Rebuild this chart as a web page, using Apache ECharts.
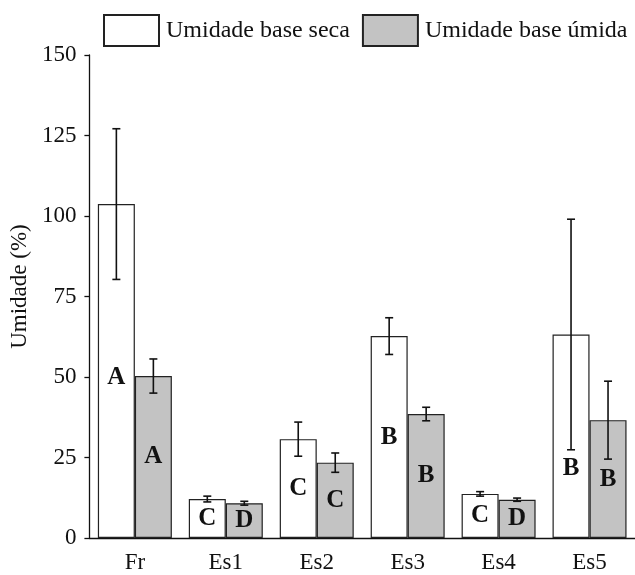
<!DOCTYPE html>
<html>
<head>
<meta charset="utf-8">
<script src="https://cdn.jsdelivr.net/npm/echarts@6/dist/echarts.min.js"></script>
<style>
html,body{margin:0;padding:0;background:#fff;}
#c{width:635px;height:575px;}
</style>
</head>
<body>
<div id="c"></div>
<script>
const categories = ['Fr', 'Es1', 'Es2', 'Es3', 'Es4', 'Es5'];
const seriesNames = ['Umidade base seca', 'Umidade base úmida'];
const seca = [103.7, 12.1, 30.7, 62.7, 13.7, 63.2];
const secaSD = [23.4, 0.9, 5.3, 5.7, 0.7, 35.8];
const umida = [50.3, 10.8, 23.4, 38.5, 11.9, 36.6];
const umidaSD = [5.3, 0.6, 3.0, 2.1, 0.5, 12.1];
const secaLetters = ['A', 'C', 'C', 'B', 'C', 'B'];
const umidaLetters = ['A', 'D', 'C', 'B', 'D', 'B'];
const yMin = 0, yMax = 150, yStep = 25;

const FONT = "'Liberation Serif', 'Times New Roman', serif";
const BAR_W = 37;
const secaLabelOffsets = { 0: [0, 7], 5: [0, 32] };

function barData(vals, letters, offsets) {
  return vals.map((v, i) => {
    const item = { value: v, label: { formatter: letters[i] } };
    if (offsets && offsets[i]) item.label.offset = offsets[i];
    return item;
  });
}
function errData(vals, sds) {
  return vals.map((v, i) => [i, v, v + sds[i], v - sds[i]]);
}
function errRender(side) {
  return function (params, api) {
    const i = api.value(0);
    const hi = api.coord([i, api.value(2)]);
    const lo = api.coord([i, api.value(3)]);
    const x = hi[0] + side * BAR_W / 2;
    const cap = 4;
    const style = { stroke: '#111', lineWidth: 1.6 };
    return {
      type: 'group',
      children: [
        { type: 'line', shape: { x1: x, y1: hi[1], x2: x, y2: lo[1] }, style },
        { type: 'line', shape: { x1: x - cap, y1: hi[1], x2: x + cap, y2: hi[1] }, style },
        { type: 'line', shape: { x1: x - cap, y1: lo[1], x2: x + cap, y2: lo[1] }, style }
      ]
    };
  };
}

const labelStyle = {
  show: true, position: 'inside', fontFamily: FONT, fontWeight: 'bold',
  fontSize: 25, color: '#111'
};

const chart = echarts.init(document.getElementById('c'), null, { renderer: 'canvas' });
chart.setOption({
  backgroundColor: '#fff',
  animation: false,
  textStyle: { fontFamily: FONT },
  legend: {
    data: seriesNames,
    left: 103, top: 14, width: 560, padding: 0,
    itemWidth: 55, itemHeight: 31, itemGap: 12,
    icon: 'rect',
    textStyle: { fontFamily: FONT, fontSize: 24, color: '#111', padding: [0, 0, 0, 2] }
  },
  grid: { left: 88, right: -3, top: 55, bottom: 37, containLabel: false },
  xAxis: {
    type: 'category',
    data: categories,
    axisLine: { lineStyle: { color: '#111', width: 1.3 } },
    axisTick: { alignWithLabel: true, length: 7, lineStyle: { color: '#111', width: 1.3 } },
    axisLabel: { fontFamily: FONT, fontSize: 23, color: '#111', margin: 13 },
    splitLine: { show: false }
  },
  yAxis: {
    type: 'value',
    min: yMin, max: yMax, interval: yStep,
    name: 'Umidade (%)',
    nameLocation: 'middle',
    nameGap: 58,
    nameTextStyle: { fontFamily: FONT, fontSize: 23, color: '#111', padding: [0, 0, 0, 20] },
    axisLine: { show: true, lineStyle: { color: '#111', width: 1.3 } },
    axisTick: { show: true, length: 5, lineStyle: { color: '#111', width: 1.3 } },
    axisLabel: { fontFamily: FONT, fontSize: 23, color: '#111', margin: 13 },
    splitLine: { show: false }
  },
  series: [
    {
      name: seriesNames[0], type: 'bar', barWidth: BAR_W, barGap: '0%',
      itemStyle: { color: '#ffffff', borderColor: '#222', borderWidth: 1.2 },
      label: labelStyle,
      data: barData(seca, secaLetters, secaLabelOffsets)
    },
    {
      name: seriesNames[1], type: 'bar', barWidth: BAR_W, barGap: '0%',
      itemStyle: { color: '#c3c3c3', borderColor: '#222', borderWidth: 1.2 },
      label: labelStyle,
      data: barData(umida, umidaLetters, null)
    },
    {
      type: 'custom', renderItem: errRender(-1), data: errData(seca, secaSD), z: 5,
      encode: { x: 0, y: [2, 3] }, silent: true
    },
    {
      type: 'custom', renderItem: errRender(1), data: errData(umida, umidaSD), z: 5,
      encode: { x: 0, y: [2, 3] }, silent: true
    }
  ]
});
</script>
</body>
</html>
